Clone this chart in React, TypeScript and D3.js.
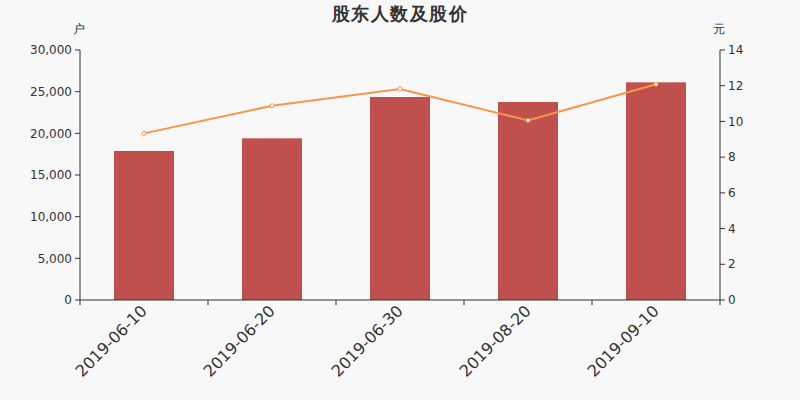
import React from "react";
import * as d3 from "d3";

const categories = ["2019-06-10", "2019-06-20", "2019-06-30", "2019-08-20", "2019-09-10"];
const holders = [17880, 19400, 24360, 23760, 26120];
const prices = [9.33, 10.88, 11.82, 10.06, 12.08];
const leftTicks = [0, 5000, 10000, 15000, 20000, 25000, 30000];
const rightTicks = [0, 2, 4, 6, 8, 10, 12, 14];

const W = 800;
const H = 400;
const M = { left: 80, right: 720, top: 50, bottom: 300 };
const FONT = "DejaVu Sans, sans-serif";

export default function App() {
  const x = d3.scaleBand<string>().domain(categories).range([M.left, M.right]);
  const yL = d3.scaleLinear().domain([0, 30000]).range([M.bottom, M.top]);
  const yR = d3.scaleLinear().domain([0, 14]).range([M.bottom, M.top]);
  const barW = 60;
  const fmt = d3.format(",");
  const line = d3
    .line<number>()
    .x((_, i) => (x(categories[i]) as number) + x.bandwidth() / 2)
    .y((d) => yR(d));

  const boundaries = categories.map((c) => x(c) as number).concat([M.right]);

  return (
    <svg width={W} height={H} style={{ position: "absolute", left: 0, top: 0, background: "#f8f8f8" }} fontFamily={FONT}>
      <rect x={0} y={0} width={W} height={H} fill="#f8f8f8" />
      <text x={400} y={20} textAnchor="middle" fontSize={18} fontWeight="bold" letterSpacing={1.5} fill="#333">
        股东人数及股价
      </text>
      <text x={79} y={33} textAnchor="middle" fontSize={12} fill="#333">户</text>
      <text x={719} y={33} textAnchor="middle" fontSize={12} fill="#333">元</text>

      {holders.map((v, i) => (
        <rect
          key={i}
          x={(x(categories[i]) as number) + x.bandwidth() / 2 - barW / 2}
          y={yL(v)}
          width={barW}
          height={M.bottom - yL(v)}
          fill="#c0504d"
        />
      ))}

      <path d={line(prices) || ""} fill="none" stroke="#f79646" strokeWidth={2} />
      {prices.map((v, i) => (
        <circle
          key={i}
          cx={(x(categories[i]) as number) + x.bandwidth() / 2}
          cy={yR(v)}
          r={2}
          fill="#fff"
          stroke="#f79646"
          strokeWidth={1}
        />
      ))}

      {/* left axis */}
      <line x1={M.left} x2={M.left} y1={M.top} y2={M.bottom} stroke="#333" />
      {leftTicks.map((t) => (
        <g key={t}>
          <line x1={M.left - 5} x2={M.left} y1={yL(t)} y2={yL(t)} stroke="#333" />
          <text x={M.left - 8} y={yL(t)} dy="0.35em" textAnchor="end" fontSize={12} fill="#333">
            {fmt(t)}
          </text>
        </g>
      ))}

      {/* right axis */}
      <line x1={M.right} x2={M.right} y1={M.top} y2={M.bottom} stroke="#333" />
      {rightTicks.map((t) => (
        <g key={t}>
          <line x1={M.right} x2={M.right + 5} y1={yR(t)} y2={yR(t)} stroke="#333" />
          <text x={M.right + 8} y={yR(t)} dy="0.35em" textAnchor="start" fontSize={12} fill="#333">
            {t}
          </text>
        </g>
      ))}

      {/* bottom axis */}
      <line x1={M.left} x2={M.right} y1={M.bottom} y2={M.bottom} stroke="#333" />
      {boundaries.map((b, i) => (
        <line key={i} x1={b} x2={b} y1={M.bottom} y2={M.bottom + 5} stroke="#333" />
      ))}
      {categories.map((c) => {
        const cx = (x(c) as number) + x.bandwidth() / 2;
        return (
          <text
            key={c}
            transform={`translate(${cx},${M.bottom + 8}) rotate(-45)`}
            textAnchor="end"
            dy="0.35em"
            fontSize={16}
            fill="#333"
          >
            {c}
          </text>
        );
      })}
    </svg>
  );
}
